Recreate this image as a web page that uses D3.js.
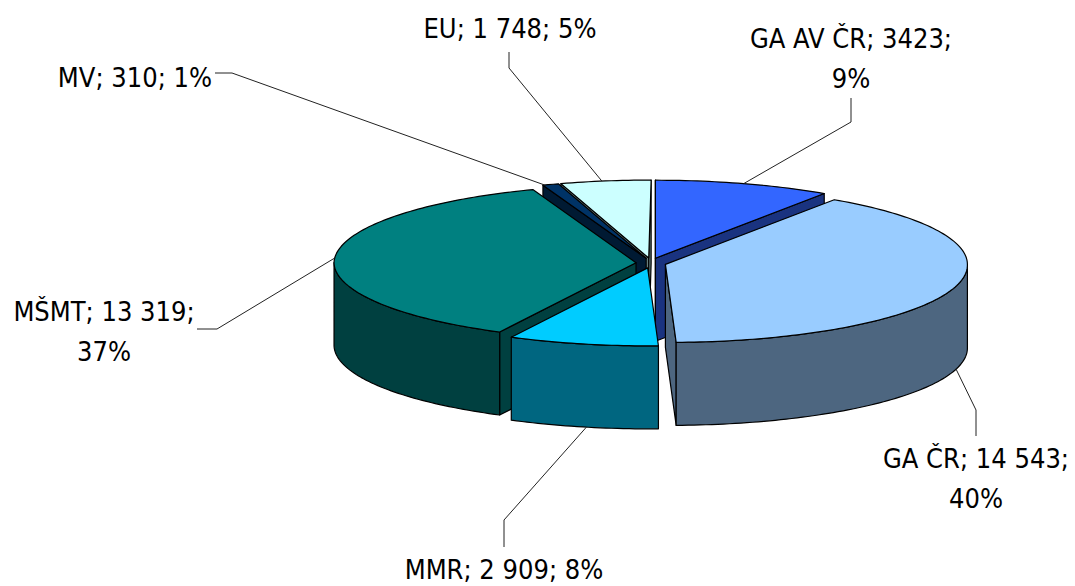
<!DOCTYPE html>
<html><head><meta charset="utf-8">
<style>html,body{margin:0;padding:0;background:#fff}svg{display:block}text{font-family:"DejaVu Sans Condensed","DejaVu Sans",sans-serif;font-stretch:condensed;font-size:27px;fill:#000}</style>
<script src="https://cdn.jsdelivr.net/npm/d3@7/dist/d3.min.js"></script>
</head><body><script>
const categories = ["GA AV ČR","GA ČR","MMR","MŠMT","MV","EU"];
const seriesValues = [3423,14543,2909,13319,310,1748];
const valueLabels = ["3423","14 543","2 909","13 319","310","1 748"];
const percentLabels = ["9%","40%","8%","37%","1%","5%"];
const topColors = ["#3366FF","#99CCFF","#00CCFF","#008080","#003366","#CCFFFF"];
const sideColors = ["#1A3380","#4D6680","#006680","#004040","#001A33","#668080"];
const labelBreaks = [true,true,false,true,false,false];
const labelAnchors = [[851,48],[976,468],[504,579],[104,321],[135,87],[510,38]];
const leaderElbows = [[[851,122],[851,98]],[[976,410],[976,436]],[[504,520],[504,547]],[[217,329],[197,329]],[[232,73],[215,73]],[[509,68],[509,52]]];
const leaderNudgeDeg = [0,0,-0.7,0,-1.2,-0.7];
const drawOrder = [0,5,4,3,1,2];

const W=1075,H=586,cx=651,cy=263,rx=302,ry=78,depth=83,ex=15,ey=5,lineGap=40,skew=2.4;
const svg=d3.select("body").append("svg").attr("width",W).attr("height",H);
const arcs=d3.pie().sort(null).startAngle(0).endAngle(2*Math.PI)(seriesValues);
const slices=arcs.map((a,i)=>{const m=(a.startAngle+a.endAngle)/2;
  return {i,a0:a.startAngle,a1:a.endAngle,m,ox:cx+ex*Math.sin(m),oy:cy-ey*Math.cos(m)};});
const rim=(s,t,d=0)=>[s.ox+rx*Math.sin(t)+(t>Math.PI/2?skew*Math.abs(Math.cos(t)):0),s.oy-ry*Math.cos(t)+d];
function arcPts(s,t0,t1,d){const n=Math.max(2,Math.ceil(Math.abs(t1-t0)/0.02));
  return d3.range(n+1).map(k=>rim(s,t0+(t1-t0)*k/n,d));}
const line=d3.line();
const closed=p=>line(p)+"Z";
function faceVisible(s,t){const A=[s.ox,s.oy],B=rim(s,t),M=rim(s,s.m);
  const Ex=B[0]-A[0],Ey=B[1]-A[1];
  const c1=Ex*(M[1]-A[1])-Ey*(M[0]-A[0]),c2=Ex;
  return c1*c2<=0;}
function wallPieces(s){
  const lo=Math.max(s.a0,Math.PI/2),hi=Math.min(s.a1,1.5*Math.PI);
  return lo<hi?[[lo,hi]]:[];}
const g=svg.append("g").attr("stroke","#000").attr("stroke-width",1.2).attr("stroke-linejoin","round");
drawOrder.forEach(i=>{const s=slices[i];
  const A=[s.ox,s.oy],A2=[s.ox,s.oy+depth];
  [s.a0,s.a1].filter(t=>faceVisible(s,t)).forEach(t=>{const B=rim(s,t),B2=rim(s,t,depth);
    g.append("path").attr("d",closed([A,B,B2,A2])).attr("fill",sideColors[i]);});
  wallPieces(s).forEach(([lo,hi])=>{
    g.append("path").attr("d",closed(arcPts(s,lo,hi,0).concat(arcPts(s,hi,lo,depth)))).attr("fill",sideColors[i]);});
  g.append("path").attr("d",closed([A].concat(arcPts(s,s.a0,s.a1,0)))).attr("fill",topColors[i]);
});
const lg=svg.append("g").attr("fill","none").attr("stroke","#222").attr("stroke-width",1);
slices.forEach(s=>{const t=s.m+leaderNudgeDeg[s.i]*Math.PI/180,front=Math.cos(t)<0&&Math.abs(Math.sin(t))<0.98;
  const p=rim(s,t,front?depth:0);
  lg.append("path").attr("d",line([p].concat(leaderElbows[s.i])));});
const tg=svg.append("g").attr("text-anchor","middle");
categories.forEach((c,i)=>{const [x,y]=labelAnchors[i];
  const lines=labelBreaks[i]?[`${c}; ${valueLabels[i]};`,percentLabels[i]]:[`${c}; ${valueLabels[i]}; ${percentLabels[i]}`];
  lines.forEach((l,k)=>tg.append("text").attr("x",x).attr("y",y+k*lineGap).text(l));});
</script></body></html>
